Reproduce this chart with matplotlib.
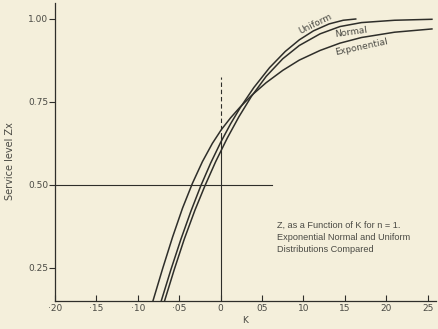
import matplotlib
matplotlib.use("Agg")
import matplotlib.pyplot as plt

# ---- data ----
exp_k = [-0.082, -0.070, -0.058, -0.046, -0.034, -0.022, -0.010, 0.001, 0.012, 0.023,
         0.038, 0.055, 0.075, 0.095, 0.120, 0.144, 0.170, 0.210, 0.256]
exp_z = [0.148, 0.248, 0.343, 0.430, 0.505, 0.570, 0.625, 0.667, 0.702, 0.733,
         0.771, 0.808, 0.845, 0.876, 0.905, 0.927, 0.944, 0.960, 0.970]

uni_k = [-0.072, -0.060, -0.048, -0.036, -0.024, -0.012, 0.000, 0.012, 0.024, 0.040,
         0.059, 0.078, 0.095, 0.112, 0.131, 0.148, 0.164]
uni_z = [0.148, 0.245, 0.336, 0.420, 0.497, 0.566, 0.628, 0.684, 0.734, 0.793,
         0.853, 0.902, 0.937, 0.964, 0.985, 0.996, 1.000]

nor_k = [-0.068, -0.056, -0.044, -0.031, -0.019, -0.006, 0.008, 0.022, 0.037, 0.055,
         0.075, 0.095, 0.120, 0.144, 0.170, 0.210, 0.256]
nor_z = [0.148, 0.245, 0.336, 0.424, 0.497, 0.570, 0.641, 0.705, 0.766, 0.827,
         0.880, 0.920, 0.955, 0.977, 0.989, 0.996, 0.999]

x_ticks = [-0.20, -0.15, -0.10, -0.05, 0.0, 0.05, 0.10, 0.15, 0.20, 0.25]
x_tick_labels = ["·20", "·15", "·10", "·05", "0", "05", "10", "15", "20", "25"]
y_ticks = [0.25, 0.50, 0.75, 1.00]
y_tick_labels = ["0.25", "0.50", "0.75", "1.00"]

half_line_z = 0.50
half_line_kmax = 0.062
k_zero = 0.0
k_zero_solid_top = 0.645
k_zero_dash_top = 0.825

bg = "#f4efdb"
ink = "#2e2e2a"
txt = "#4a4a44"

fig = plt.figure(figsize=(4.39, 3.29), dpi=100, facecolor=bg)
ax = fig.add_axes([55/439, 1-301/329, (436-55)/439, (301-3)/329])
ax.set_facecolor(bg)
ax.set_xlim(-0.20, 0.26)
ax.set_ylim(0.15, 1.048)

for s in ["top", "right"]:
    ax.spines[s].set_visible(False)
for s in ["left", "bottom"]:
    ax.spines[s].set_color(ink)
    ax.spines[s].set_linewidth(0.9)

lw = 1.1
for kk, zz in [(exp_k, exp_z), (uni_k, uni_z), (nor_k, nor_z)]:
    ax.plot(kk, zz, color=ink, lw=lw, solid_capstyle="butt", solid_joinstyle="round")

ax.plot([-0.20, half_line_kmax], [half_line_z, half_line_z], color=ink, lw=0.8)
ax.plot([k_zero, k_zero], [0.15, k_zero_solid_top], color=ink, lw=0.8)
ax.plot([k_zero, k_zero], [k_zero_solid_top, k_zero_dash_top], color=ink, lw=0.8,
        linestyle=(0, (4, 2.5)))

tick_font = dict(family="DejaVu Sans", size=6.5, color=txt)
ax.set_xticks(x_ticks)
ax.set_xticklabels(x_tick_labels, **tick_font)
ax.set_yticks(y_ticks)
ax.set_yticklabels(y_tick_labels, **tick_font)
ax.tick_params(axis="x", direction="in", length=4, width=0.8, color=ink, pad=2.5)
ax.tick_params(axis="y", direction="out", length=4, width=0.8, color=ink, pad=1)

ax.set_xlabel("K", fontsize=6.5, color=txt, family="DejaVu Sans", labelpad=2)
ax.set_ylabel("Service level Zx", fontsize=7, color=txt, family="DejaVu Sans")
ax.yaxis.set_label_coords(-0.105, 0.47)

lab = dict(family="DejaVu Sans", size=6.5, color=txt, ha="center", va="center",
           rotation_mode="anchor")
ax.text(0.114, 0.984, "Uniform", rotation=26, **lab)
ax.text(0.157, 0.959, "Normal", rotation=8, **lab)
ax.text(0.170, 0.915, "Exponential", rotation=12, **lab)

ax.text(0.0675, 0.391,
        "Z, as a Function of K for n = 1.\nExponential Normal and Uniform\nDistributions Compared",
        family="Liberation Sans", size=6.6, color=txt, ha="left", va="top", linespacing=1.45)

fig.savefig("out.png", dpi=100, facecolor=bg)
